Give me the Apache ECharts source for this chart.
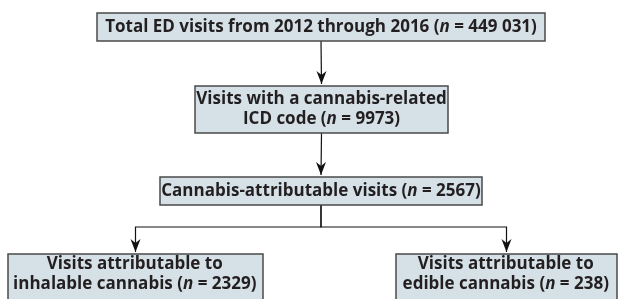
<!DOCTYPE html>
<html>
<head>
<meta charset="utf-8">
<script src="https://cdn.jsdelivr.net/npm/echarts@6/dist/echarts.min.js"></script>
<style>
	html, body { margin: 0; padding: 0; background: #fff; }
	#main { width: 620px; height: 299px; }
</style>
</head>
<body>
<div id="main"></div>
<script>
'use strict';

// flow stages, top to bottom
var stages = [
	'Total ED visits from 2012 through 2016',
	'Visits with a cannabis-related\nICD code',
	'Cannabis-attributable visits',
	'Visits attributable to\ninhalable cannabis',
	'Visits attributable to\nedible cannabis'
];
var counts = ['449 031', '9973', '2567', '2329', '238'];
// parent -> child
var links = [[0, 1], [1, 2], [2, 3], [2, 4]];

// box layout: centre x, top y, width, height (in axis units = px)
var layout = [
	[321, 13, 448, 28],
	[321.5, 86, 253, 47],
	[321, 177, 322, 28],
	[135.5, 254, 255, 52],
	[506.5, 254, 221, 52]
];
var splitY = 227;

var FILL = '#d5e1e7';
var EDGE = '#4a4a4a';
var INK = '#231f20';

function boxLabel(i) {
	return '{b|' + stages[i] + ' (}{i|n}{b| = ' + counts[i] + ')}';
}

function arrowHead(api, x, y) {
	var tip = api.coord([x, y]);
	return {
		type: 'polygon',
		shape: { points: [[tip[0], tip[1]], [tip[0] - 5, tip[1] - 13], [tip[0], tip[1] - 9], [tip[0] + 5, tip[1] - 13]] },
		style: { fill: '#111' }
	};
}

var chart = echarts.init(document.getElementById('main'));
chart.setOption({
	animation: false,
	grid: { left: 0, right: 0, top: 0, bottom: 0 },
	xAxis: { type: 'value', min: 0, max: 620, show: false },
	yAxis: { type: 'value', min: 0, max: 299, inverse: true, show: false },
	series: [{
		// connectors
		type: 'custom',
		silent: true,
		data: links,
		renderItem: function (params, api) {
			var from = layout[api.value(0)];
			var to = layout[api.value(1)];
			var y0 = from[1] + from[3];
			var y1 = to[1] - 2;
			var pts;
			if (Math.abs(from[0] - to[0]) < 1) {
				pts = [[from[0], y0], [to[0], y1]];
			} else {
				pts = [[from[0], y0], [from[0], splitY], [to[0], splitY], [to[0], y1]];
			}
			return {
				type: 'group',
				children: [{
					type: 'polyline',
					shape: { points: pts.map(function (p) { return api.coord(p); }) },
					style: { stroke: '#111', lineWidth: 1.2, fill: null }
				}, arrowHead(api, to[0], y1)]
			};
		},
		z: 1
	}, {
		// boxes
		type: 'custom',
		silent: true,
		data: stages.map(function (s, i) { return [i]; }),
		renderItem: function (params, api) {
			var i = api.value(0);
			var b = layout[i];
			var p0 = api.coord([b[0] - b[2] / 2, b[1]]);
			var p1 = api.coord([b[0] + b[2] / 2, b[1] + b[3]]);
			return {
				type: 'rect',
				shape: { x: p0[0], y: p0[1], width: p1[0] - p0[0], height: p1[1] - p0[1] },
				style: { fill: FILL, stroke: EDGE, lineWidth: 1.5 },
				textContent: {
					style: {
						text: boxLabel(i),
						align: 'center',
						verticalAlign: 'middle',
						rich: {
							b: { fontFamily: 'Open Sans', fontWeight: 'bold', fontSize: 17, lineHeight: 20, fill: INK },
							i: { fontFamily: 'Open Sans', fontWeight: 'bold', fontStyle: 'italic', fontSize: 17, lineHeight: 20, fill: INK }
						}
					}
				},
				textConfig: { position: i >= 3 ? [ (p1[0] - p0[0]) / 2, 21 ] : 'inside' }
			};
		},
		z: 2
	}]
});
</script>
</body>
</html>
